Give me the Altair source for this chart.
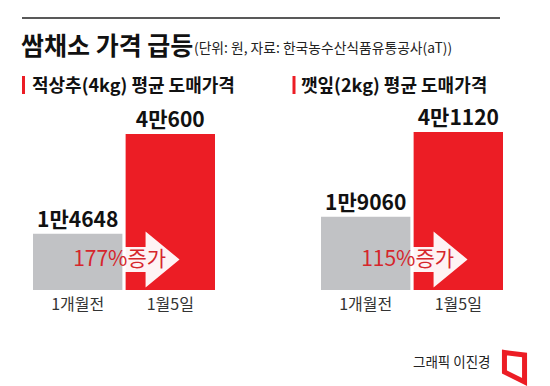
import altair as alt
import pandas as pd

# ---- data ----
periods = ["1개월전", "1월5일"]
lettuce_prices = [14648, 40600]      # 적상추(4kg)
perilla_prices = [19060, 41120]      # 깻잎(2kg)
increase_labels = ["177%증가", "115%증가"]
panel_headers = ["적상추(4kg) 평균 도매가격", "깻잎(2kg) 평균 도매가격"]
title_text = "쌈채소 가격 급등"
subtitle_text = "(단위: 원, 자료: 한국농수산식품유통공사(aT))"
credit_text = "그래픽 이진경"

RED = "#ec1d25"
GRAY = "#c1c2c5"
PCT_RED = "#d6262c"
FONT = "Noto Sans CJK KR"

ARROW = "M-1.07,-0.216L0.344,-0.216L0.344,-0.483L0.93,0L0.344,0.483L0.344,0.216L-1.07,0.216Z"
LOGO = "M-0.67,-0.97L0.67,-0.8L0.67,1L-0.67,0.33Z"


def man(v):
    return f"{v // 10000}만{v % 10000}"


one = pd.DataFrame({"k": [0]})


def txt(text, x, y, size, weight="normal", color="#111", align="left", baseline="alphabetic"):
    return alt.Chart(one).mark_text(
        text=text, align=align, baseline=baseline, fontSize=size,
        fontWeight=weight, color=color, font=FONT
    ).encode(x=alt.value(x), y=alt.value(y))


def panel(values, pct, header, hx, tickx, extra_layers):
    df = pd.DataFrame({"period": periods, "price": values, "label": [man(v) for v in values]})
    base = alt.Chart(df)
    xaxis = alt.Axis(title=None, domain=False, ticks=False, labelFontSize=16,
                     labelColor="#333", labelPadding=6, labelAngle=0, labelFont=FONT)
    xscale = alt.Scale(domain=periods, paddingInner=0.035, paddingOuter=0)
    x = alt.X("period:N", sort=periods, scale=xscale, axis=xaxis)
    y = alt.Y("price:Q", scale=alt.Scale(domain=[0, 73400], nice=False), axis=None)

    red_bar = base.transform_filter(alt.FieldEqualPredicate(field="period", equal=periods[1])) \
        .mark_bar(color=RED).encode(x=x, y=y)
    gray_bar = base.transform_filter(alt.FieldEqualPredicate(field="period", equal=periods[0])) \
        .mark_bar(color=GRAY).encode(x=x, y=y)
    labels = base.mark_text(dy=-7, baseline="alphabetic", fontSize=21, fontWeight="bold",
                            color="#111", font=FONT).encode(x=x, y=y, text="label:N")
    red_only = base.transform_filter(alt.FieldEqualPredicate(field="period", equal=periods[1]))
    xb = alt.X("period:N", sort=periods, scale=xscale, axis=xaxis, bandPosition=0)
    arrow = red_only.mark_point(shape=ARROW, size=13456, filled=True, color="white",
                                opacity=0.95, strokeWidth=0).encode(x=xb, y=alt.value(251.5))
    pct_text = red_only.mark_text(text=pct, dx=-6, align="center", baseline="middle",
                                  fontSize=21, color=PCT_RED, font=FONT).encode(x=xb, y=alt.value(252))
    tick = alt.Chart(one).mark_rule(color=RED, strokeWidth=3).encode(
        x=alt.value(tickx), y=alt.value(68), y2=alt.value(86))
    head = txt(header, hx, 84, 18, weight="bold")
    layers = extra_layers + [tick, head, red_bar, arrow, gray_bar, labels, pct_text]
    return alt.layer(*layers).properties(width=182, height=282)


top_rule = alt.Chart(one).mark_rule(color="#222", strokeWidth=1.5).encode(
    x=alt.value(-11), x2=alt.value(467), y=alt.value(10))
title = txt(title_text, -12, 47, 25, weight="bold")
subtitle = txt(subtitle_text, 161, 45, 13.8, color="#222")

credit = txt(credit_text, 92, 355, 13.5, color="#222", baseline="middle")
logo = alt.Chart(one).mark_point(shape=LOGO, size=900, filled=False, stroke=RED,
                                 strokeWidth=5, opacity=1).encode(
    x=alt.value(193.5), y=alt.value(359))

left = panel(lettuce_prices, increase_labels[0], panel_headers[0], -1, -9.5,
             [top_rule, title, subtitle])
right = panel(perilla_prices, increase_labels[1], panel_headers[1], -20, -27,
              [credit, logo])

chart = alt.hconcat(
    left, right, spacing=106, bounds="flush",
    padding={"left": 13, "top": 0, "right": 5, "bottom": 2},
).configure(font=FONT, background="white").configure_view(stroke=None, strokeWidth=0)

chart.save("out.html", embed_options={"renderer": "svg", "actions": False})
